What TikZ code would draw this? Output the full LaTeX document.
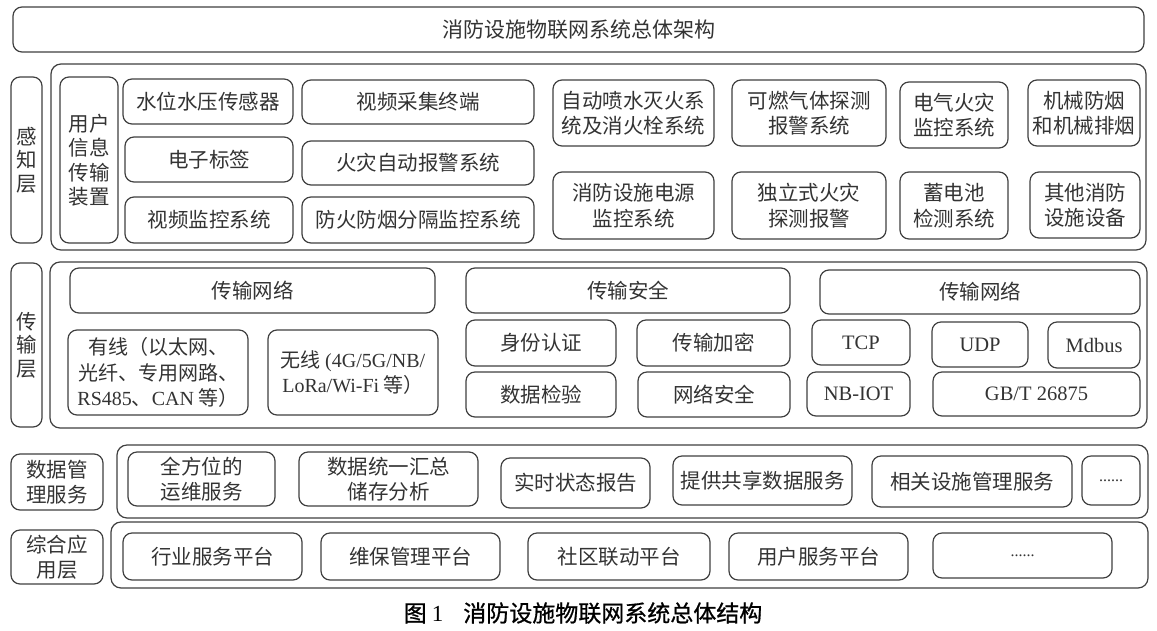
\documentclass[tikz,border=0pt]{standalone}
\usepackage{fontspec}
\setmainfont{Noto Sans CJK SC}
\newfontfamily\lat{Liberation Serif}
\newfontfamily\capfont[FakeBold=0.8]{Noto Sans CJK SC}
\definecolor{ln}{HTML}{404040}
\definecolor{tx}{HTML}{333333}
\tikzset{
  bx/.style={draw=ln, line width=1.2pt, rounded corners=9pt, inner sep=0pt, outer sep=0pt,
    text=tx, align=center, font=\fontsize{20.5}{25.5}\selectfont},
  vlab/.style={bx, font=\fontsize{20.5}{23.5}\selectfont},
  latx/.style={font=\lat\fontsize{20.5}{24}\selectfont},
  outer/.style={draw=ln, line width=1.2pt, rounded corners=10pt, inner sep=0pt, outer sep=0pt}
}
\newcommand\bbox[7][]{\node[bx,#1, minimum width={(#5-#3)*1pt}, minimum height={(#6-#4)*1pt}] (#2) at ({(#3+#5)/2},{(#4+#6)/2}) {#7};}
\begin{document}
\begin{tikzpicture}[x=1pt,y=-1pt]
\useasboundingbox[fill=white] (0,0) rectangle (1157,630);
% title
\bbox[font=\fontsize{21}{25}\selectfont]{title}{13}{7}{1144}{52}{消防设施物联网系统总体架构}
% ---- perception layer
\bbox[vlab]{lgA}{11}{77}{42}{243}{感\\知\\层}
\bbox[outer]{outA}{51}{64}{1146}{250}{}
\bbox[vlab, font=\fontsize{20.5}{24.5}\selectfont]{uit}{60}{77}{118}{243}{用户\\信息\\传输\\装置}
\bbox{a1}{123}{79}{293}{124}{水位水压传感器}
\bbox{a2}{125}{137}{293}{182}{电子标签}
\bbox{a3}{125}{197}{293}{243}{视频监控系统}
\bbox{a4}{302}{80}{534}{124}{视频采集终端}
\bbox{a5}{302}{141}{534}{185}{火灾自动报警系统}
\bbox{a6}{302}{197}{534}{243}{防火防烟分隔监控系统}
\bbox{a7}{553}{80}{714}{146}{自动喷水灭火系\\统及消火栓系统}
\bbox{a8}{553}{172}{714}{239}{消防设施电源\\监控系统}
\bbox{a9}{732}{80}{886}{146}{可燃气体探测\\报警系统}
\bbox{a10}{732}{172}{886}{239}{独立式火灾\\探测报警}
\bbox{a11}{900}{82}{1008}{148}{电气火灾\\监控系统}
\bbox{a12}{900}{172}{1008}{239}{蓄电池\\检测系统}
\bbox{a13}{1028}{80}{1140}{146}{机械防烟\\和机械排烟}
\bbox{a14}{1030}{172}{1140}{238}{其他消防\\设施设备}
% ---- transport layer
\bbox[vlab]{lgB}{11}{263}{42}{427}{传\\输\\层}
\bbox[outer]{outB}{50}{262}{1147}{428}{}
\bbox{b1}{70}{268}{435}{313}{传输网络}
\bbox[font=\fontsize{20}{25.5}\selectfont]{b2}{68}{330}{248}{415}{有线（以太网、\\光纤、专用网路、\\{\lat RS485}、{\lat CAN} 等）}
\bbox[font=\fontsize{20}{25.5}\selectfont]{b3}{268}{330}{438}{415}{无线 {\lat (4G/5G/NB/}\\{\lat LoRa/Wi-Fi} 等）}
\bbox{b4}{466}{268}{790}{313}{传输安全}
\bbox{b5}{466}{320}{616}{366}{身份认证}
\bbox{b6}{637}{320}{790}{366}{传输加密}
\bbox{b7}{466}{372}{616}{417}{数据检验}
\bbox{b8}{638}{372}{790}{417}{网络安全}
\bbox{b9}{820}{270}{1140}{314}{传输网络}
\bbox[latx]{b10}{812}{320}{910}{365}{TCP}
\bbox[latx]{b11}{932}{322}{1028}{367}{UDP}
\bbox[latx]{b12}{1048}{322}{1140}{368}{Mdbus}
\bbox[latx]{b13}{807}{372}{910}{416}{NB-IOT}
\bbox[latx]{b14}{933}{372}{1140}{416}{GB/T 26875}
% ---- data management
\bbox{lgC}{11}{454}{103}{510}{数据管\\理服务}
\bbox[outer]{outC}{117}{445}{1148}{518}{}
\bbox{c1}{128}{452}{275}{506}{全方位的\\运维服务}
\bbox{c2}{299}{452}{478}{506}{数据统一汇总\\储存分析}
\bbox{c3}{501}{458}{650}{508}{实时状态报告}
\bbox{c4}{673}{456}{852}{505}{提供共享数据服务}
\bbox{c5}{872}{456}{1072}{507}{相关设施管理服务}
\bbox[font=\lat\fontsize{16}{20}\selectfont]{c6}{1082}{456}{1140}{505}{......}
% ---- application layer
\bbox{lgD}{11}{530}{103}{584}{综合应\\用层}
\bbox[outer]{outD}{111}{522}{1148}{588}{}
\bbox{d1}{123}{533}{302}{580}{行业服务平台}
\bbox{d2}{321}{533}{500}{580}{维保管理平台}
\bbox{d3}{528}{533}{710}{580}{社区联动平台}
\bbox{d4}{729}{533}{908}{580}{用户服务平台}
\bbox[font=\lat\fontsize{16}{20}\selectfont]{d5}{933}{533}{1112}{578}{......}
% caption
\node[text=black, inner sep=0pt, font=\capfont\fontsize{23}{26}\selectfont] (cap) at (583,613) {图 {\lat 1}\hspace{20pt}消防设施物联网系统总体结构};
\end{tikzpicture}
\end{document}
